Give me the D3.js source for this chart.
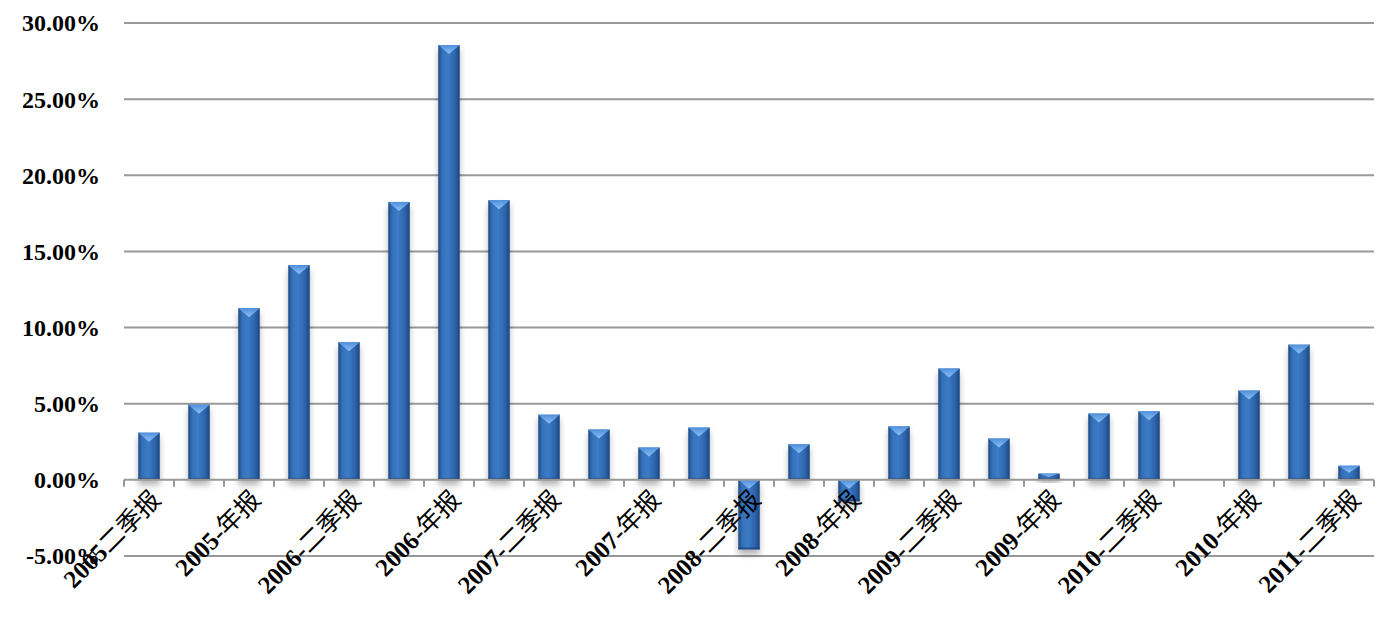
<!DOCTYPE html>
<html>
<head>
<meta charset="utf-8">
<script src="https://cdn.jsdelivr.net/npm/d3@7"></script>
<style>
  body { margin: 0; background: #fff; }
  text { font-family: "Liberation Serif", "Times New Roman", "Noto Sans CJK SC", serif; font-weight: bold; }
  tspan.cn { font-weight: normal; }
</style>
</head>
<body>
<svg width="1386" height="618"></svg>
<script>
var categories = ["2005二季报", "2005-三季报", "2005-年报", "2006-一季报", "2006-二季报", "2006-三季报",
    "2006-年报", "2007-一季报", "2007-二季报", "2007-三季报", "2007-年报", "2008-一季报",
    "2008-二季报", "2008-三季报", "2008-年报", "2009-一季报", "2009-二季报", "2009-三季报",
    "2009-年报", "2010-一季报", "2010-二季报", "2010-三季报", "2010-年报", "2011-一季报", "2011-二季报"];
var values = [3.10, 4.94, 11.27, 14.10, 9.03, 18.25, 28.55, 18.36, 4.28, 3.30, 2.12, 3.43,
    -4.57, 2.33, -1.41, 3.51, 7.31, 2.71, 0.41, 4.35, 4.50, 0, 5.86, 8.88, 0.93];
var yTicks = [-5, 0, 5, 10, 15, 20, 25, 30];

var svg = d3.select("svg"),
    margin = {left: 124, right: 12, top: 23, bottom: 62},
    width = +svg.attr("width") - margin.left - margin.right,
    height = +svg.attr("height") - margin.top - margin.bottom;

var defs = svg.append("defs");
var grad = defs.append("linearGradient").attr("id", "barGrad")
    .attr("x1", "0%").attr("x2", "100%").attr("y1", "0%").attr("y2", "0%");
grad.append("stop").attr("offset", "0%").attr("stop-color", "#1d4a85");
grad.append("stop").attr("offset", "18%").attr("stop-color", "#3470b8");
grad.append("stop").attr("offset", "45%").attr("stop-color", "#3b7bc7");
grad.append("stop").attr("offset", "80%").attr("stop-color", "#2c62a8");
grad.append("stop").attr("offset", "100%").attr("stop-color", "#1b4580");

var capGrad = defs.append("linearGradient").attr("id", "capGrad")
    .attr("x1", "0%").attr("x2", "0%").attr("y1", "0%").attr("y2", "100%");
capGrad.append("stop").attr("offset", "0%").attr("stop-color", "#4f8fdc");
capGrad.append("stop").attr("offset", "100%").attr("stop-color", "#8cc0f5");

var shadow = defs.append("filter").attr("id", "shadow")
    .attr("x", "-50%").attr("y", "-20%").attr("width", "200%").attr("height", "160%");
shadow.append("feGaussianBlur").attr("in", "SourceAlpha").attr("stdDeviation", 3);
shadow.append("feOffset").attr("dx", 0).attr("dy", 5).attr("result", "b");
shadow.append("feComponentTransfer").append("feFuncA").attr("type", "linear").attr("slope", 0.3);
var merge = shadow.append("feMerge");
merge.append("feMergeNode");
merge.append("feMergeNode").attr("in", "SourceGraphic");

var g = svg.append("g").attr("transform", "translate(" + margin.left + "," + margin.top + ")");

var x = d3.scaleBand().domain(categories).range([0, width]).paddingInner(0.57).paddingOuter(0.285);
var step = width / categories.length;
var y = d3.scaleLinear().domain([-5, 30]).range([height, 0]);

// grid lines
g.append("g").selectAll("line")
    .data(yTicks.filter(function(d) { return d !== 0; }))
    .enter().append("line")
    .attr("x1", 0).attr("x2", width)
    .attr("y1", function(d) { return y(d); })
    .attr("y2", function(d) { return y(d); })
    .attr("stroke", "#999").attr("stroke-width", 2);

// y labels
g.append("g").selectAll("text")
    .data(yTicks)
    .enter().append("text")
    .attr("x", -24)
    .attr("y", function(d) { return y(d); })
    .attr("dy", "0.35em")
    .attr("text-anchor", "end")
    .style("font-size", "24px")
    .text(function(d) { return d.toFixed(2) + "%"; });

// bars
var bars = g.append("g").selectAll("g")
    .data(values)
    .enter().append("g")
    .attr("filter", "url(#shadow)");

bars.append("rect")
    .attr("x", function(d, i) { return x(categories[i]); })
    .attr("y", function(d) { return Math.min(y(d), y(0)); })
    .attr("width", x.bandwidth())
    .attr("height", function(d) { return Math.abs(y(d) - y(0)); })
    .attr("fill", "url(#barGrad)");

// bevel on the top edge of each bar
bars.append("path")
    .attr("d", function(d, i) {
        var h = Math.abs(y(d) - y(0));
        if (h < 1) return null;
        var x0 = x(categories[i]), w = x.bandwidth(), t = Math.min(y(d), y(0));
        var ch = Math.min(9, h / 2);
        return "M" + x0 + "," + t + "L" + (x0 + w) + "," + t + "L" + (x0 + w / 2) + "," + (t + ch) + "Z";
    })
    .attr("fill", "url(#capGrad)");

bars.append("rect")
    .attr("x", function(d, i) { return x(categories[i]); })
    .attr("y", function(d) { return Math.max(y(d), y(0)) - 2; })
    .attr("width", x.bandwidth())
    .attr("height", function(d) { return Math.abs(y(d) - y(0)) > 4 ? 2 : 0; })
    .attr("fill", "#17396a")
    .attr("opacity", 0.6);

// x axis line and ticks
var axis = g.append("g").attr("transform", "translate(0," + y(0) + ")");
axis.append("line").attr("x1", 0).attr("x2", width).attr("stroke", "#999").attr("stroke-width", 2);
axis.selectAll("line.tick")
    .data(d3.range(categories.length + 1))
    .enter().append("line")
    .attr("class", "tick")
    .attr("x1", function(d) { return d * step; })
    .attr("x2", function(d) { return d * step; })
    .attr("y1", 0).attr("y2", 7)
    .attr("stroke", "#999").attr("stroke-width", 2);

// category labels, every second one; digits bold, chinese part regular
var labels = axis.selectAll("text")
    .data(categories.filter(function(d, i) { return i % 2 === 0; }))
    .enter().append("text")
    .attr("transform", function(d) {
        return "translate(" + (x(d) + x.bandwidth() / 2 + 7) + ",15) rotate(-45)";
    })
    .attr("text-anchor", "end")
    .attr("dy", "0.35em")
    .style("font-size", "25px");
labels.append("tspan").text(function(d) { return d.match(/^[\d-]+/)[0]; });
labels.append("tspan").attr("class", "cn").text(function(d) { return d.replace(/^[\d-]+/, ""); });
</script>
</body>
</html>
